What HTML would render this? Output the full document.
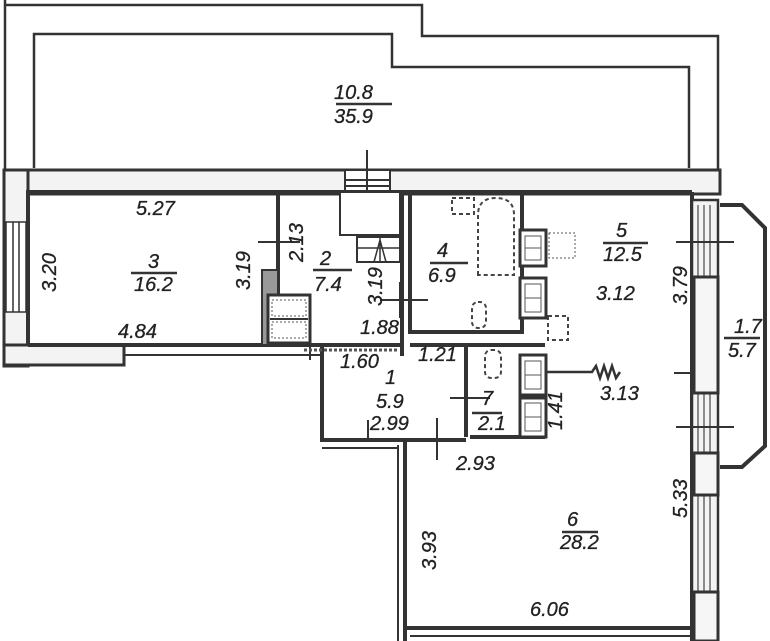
<!DOCTYPE html>
<html><head><meta charset="utf-8"><style>
html,body{margin:0;padding:0;background:#fff;}
svg{display:block}
text{font-family:"Liberation Sans",sans-serif;font-style:italic;fill:#222;font-size:20px;stroke:#222;stroke-width:0.3}
</style></head><body>
<svg width="770" height="641" viewBox="0 0 770 641" xmlns="http://www.w3.org/2000/svg">
<rect width="770" height="641" fill="#fff"/>
<g fill="none" stroke="#333" stroke-width="2.5">
<path d="M5 0 V170 M5 5 H422 V36 H718 V170"/>
<path d="M34 168 V34 H392 V67 H689 V168"/>
</g>
<!-- main top wall band -->
<rect x="4" y="170" width="716" height="24" fill="#f3f3f3" stroke="#333" stroke-width="3"/>
<rect x="345" y="170" width="45" height="24" fill="#fff" stroke="#333" stroke-width="2"/>
<path d="M345 180 H390 M345 186 H390" stroke="#333" stroke-width="2"/>
<path d="M367 150 V212" stroke="#333" stroke-width="2"/>
<!-- left exterior wall -->
<rect x="4" y="170" width="24" height="196" fill="#f3f3f3" stroke="#333" stroke-width="3"/>
<rect x="6" y="222" width="20" height="90" fill="#fff" stroke="#333" stroke-width="1.5"/>
<path d="M13 222 V312 M19 222 V312" stroke="#333" stroke-width="1.5"/>
<rect x="4" y="345" width="120" height="20" fill="#f3f3f3" stroke="#333" stroke-width="3"/>
<g fill="none" stroke="#333" stroke-width="4">
<path d="M28 345 V192 H692"/>
<path d="M28 345 H322"/>
<path d="M278 192 V300"/>
<path d="M402 192 V356"/>
<path d="M410 192 V332 H522 V192"/>
<path d="M322 345 V440 H466"/>
<path d="M466 345 V437"/>
<path d="M410 345 H545"/>
<path d="M322 345 H402"/>
<path d="M470 437 H545"/>
<path d="M405 440 V641"/>
<path d="M405 628 H692"/>
<path d="M692 192 V641"/>
</g>
<path d="M124 355 H320 M310 345 V360" stroke="#333" stroke-width="2" fill="none"/>
<path d="M398 445 V641" stroke="#333" stroke-width="2"/>
<path d="M322 448 H398" stroke="#333" stroke-width="2"/>
<path d="M410 636 H692" stroke="#333" stroke-width="2"/>
<!-- closet in room 2 -->
<rect x="262" y="270" width="16" height="75" fill="#999" stroke="#333" stroke-width="2"/>
<rect x="268" y="295" width="42" height="48" fill="#fff" stroke="#333" stroke-width="3"/>
<path d="M270 319 H308" stroke="#333" stroke-width="2"/>
<path d="M272 300 H306 V316 H272Z M272 322 H306 V338 H272Z" fill="none" stroke="#555" stroke-width="1" stroke-dasharray="2 2"/>
<rect x="340" y="192" width="60" height="43" fill="#fff" stroke="#333" stroke-width="2"/>
<rect x="357" y="237" width="43" height="25" fill="#fff" stroke="#333" stroke-width="2"/>
<path d="M357 248 H400 M380 237 V262 M374 262 L380 240 L386 262" stroke="#333" stroke-width="1.5" fill="none"/>
<path d="M380 300 H428 M400 282 V318" stroke="#333" stroke-width="2"/>
<path d="M304 350 H398" stroke="#555" stroke-width="3" stroke-dasharray="3 2"/>
<g fill="none" stroke="#444" stroke-width="2" stroke-dasharray="4 3">
<path d="M478 275 V215 Q478 198 496 198 Q514 198 514 215 V275 Z"/>
<rect x="452" y="198" width="22" height="16"/>
<rect x="472" y="302" width="14" height="26" rx="6"/>
<rect x="548" y="316" width="20" height="24"/>
<rect x="485" y="350" width="16" height="28" rx="6"/>
</g>
<g stroke="#333" stroke-width="3" fill="#fff">
<rect x="520" y="230" width="26" height="36"/>
<rect x="520" y="278" width="26" height="40"/>
<rect x="520" y="355" width="26" height="40"/>
<rect x="520" y="398" width="26" height="39"/>
</g>
<g stroke="#555" stroke-width="1" fill="none">
<rect x="525" y="236" width="16" height="24"/><path d="M525 248 H541"/>
<rect x="525" y="284" width="16" height="28"/><path d="M525 298 H541"/>
<rect x="525" y="361" width="16" height="28"/><path d="M525 375 H541"/>
<rect x="525" y="403" width="16" height="28"/><path d="M525 417 H541"/>
</g>
<rect x="549" y="233" width="26" height="25" fill="none" stroke="#555" stroke-width="1" stroke-dasharray="2 2"/>
<path d="M546 372 H592 L596 366 L600 378 L604 366 L608 378 L612 366 L616 378 L620 372" fill="none" stroke="#333" stroke-width="2.5"/>
<rect x="692" y="200" width="26" height="441" fill="#f3f3f3" stroke="#333" stroke-width="2.5"/>
<path d="M698 205 V641 M704 205 V641 M710 205 V641" stroke="#444" stroke-width="1.2"/>
<rect x="694" y="277" width="24" height="116" fill="#f6f6f6" stroke="#333" stroke-width="3"/>
<rect x="694" y="453" width="24" height="42" fill="#f6f6f6" stroke="#333" stroke-width="3"/>
<rect x="694" y="592" width="24" height="49" fill="#f6f6f6" stroke="#333" stroke-width="3"/>
<path d="M676 242 H734 M676 427 H734 M674 373 H692" stroke="#333" stroke-width="2"/>
<path d="M720 205 H742 L765 228 V446 L742 467 H720" fill="none" stroke="#333" stroke-width="4"/>
<path d="M258 242 H300 M450 398 H490 M437 418 V460 M368 420 V440" stroke="#333" stroke-width="2"/>
<path d="M336 104 H392 M131 273 H177 M313 270 H352 M430 263 H468 M603 243 H648 M562 532 H598 M724 338 H760 M472 413 H502" stroke="#333" stroke-width="2.5"/>
<text x="334" y="99">10.8</text><text x="334" y="123">35.9</text>
<text x="136" y="215">5.27</text>
<text x="118" y="338">4.84</text>
<text x="148" y="268">3</text><text x="134" y="291">16.2</text>
<text x="320" y="265">2</text><text x="314" y="291">7.4</text>
<text x="360" y="334">1.88</text>
<text x="340" y="368">1.60</text>
<text x="418" y="361">1.21</text>
<text x="385" y="384">1</text><text x="376" y="408">5.9</text>
<text x="370" y="430">2.99</text>
<text x="437" y="257">4</text><text x="428" y="282">6.9</text>
<text x="616" y="237">5</text><text x="603" y="261">12.5</text>
<text x="596" y="300">3.12</text>
<text x="600" y="400">3.13</text>
<text x="482" y="405">7</text><text x="478" y="430">2.1</text>
<text x="456" y="470">2.93</text>
<text x="567" y="526">6</text><text x="560" y="549">28.2</text>
<text x="530" y="616">6.06</text>
<text x="734" y="333">1.7</text><text x="728" y="357">5.7</text>
<text transform="translate(56,292) rotate(-90)">3.20</text>
<text transform="translate(250,290) rotate(-90)">3.19</text>
<text transform="translate(303,262) rotate(-90)">2.13</text>
<text transform="translate(382,306) rotate(-90)">3.19</text>
<text transform="translate(687,305) rotate(-90)">3.79</text>
<text transform="translate(562,430) rotate(-90)">1.41</text>
<text transform="translate(687,518) rotate(-90)">5.33</text>
<text transform="translate(436,570) rotate(-90)">3.93</text>
</svg>
</body></html>
